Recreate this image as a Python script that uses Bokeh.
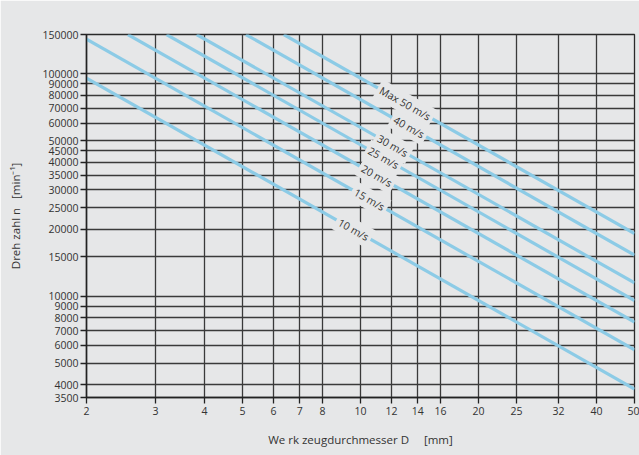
import math
from bokeh.plotting import figure
from bokeh.models import Label, FixedTicker
from bokeh.embed import file_html
from bokeh.resources import INLINE

# Data
speed_labels = ["10 m/s", "15 m/s", "20 m/s", "25 m/s", "30 m/s", "40 m/s", "Max 50 m/s"]
d_start = [2.0, 2.0, 2.55, 3.2, 3.82, 5.1, 6.37]
n_start = [95500, 143000, 150000, 150000, 150000, 150000, 150000]
d_end = [50, 50, 50, 50, 50, 50, 50]
n_end = [3820, 5730, 7640, 9550, 11460, 15280, 19100]
label_d = [9.6, 10.54, 11.0, 11.45, 12.08, 13.3, 13.0]

x_ticks = [2, 3, 4, 5, 6, 7, 8, 10, 12, 14, 16, 20, 25, 32, 40, 50]
y_ticks = [3500, 4000, 5000, 6000, 7000, 8000, 9000, 10000, 15000, 20000, 25000,
           30000, 35000, 40000, 45000, 50000, 60000, 70000, 80000, 90000, 100000, 150000]

BG = "#e6e7e8"
BLUE = "#8ccbe6"
INK = "#333333"
FONT = "Open Sans"
NB = "\u00a0"

p = figure(x_axis_type="log", y_axis_type="log", x_range=(2, 50), y_range=(3500, 150000),
           frame_width=548, frame_height=363, output_backend="svg", toolbar_location=None,
           min_border_left=86, min_border_right=5, min_border_top=34, min_border_bottom=58)
p.background_fill_color = BG
p.border_fill_color = BG
p.outline_line_color = "#2a2a2a"
p.outline_line_width = 1.3

p.xaxis.ticker = FixedTicker(ticks=x_ticks)
p.yaxis.ticker = FixedTicker(ticks=y_ticks)
p.xaxis.major_label_overrides = {t: str(t) for t in x_ticks}
p.yaxis.major_label_overrides = {t: str(t) for t in y_ticks}
p.xgrid.ticker = FixedTicker(ticks=x_ticks)
p.ygrid.ticker = FixedTicker(ticks=y_ticks)
for g in (p.xgrid, p.ygrid):
    g.grid_line_color = "#3a3a3a"
    g.grid_line_width = 1.3
    g.grid_line_alpha = 1.0

for ax in (p.xaxis, p.yaxis):
    ax.axis_line_color = "#222222"
    ax.axis_line_width = 1.5
    ax.major_tick_line_color = "#222222"
    ax.major_tick_line_width = 1.3
    ax.major_tick_out = 6
    ax.major_tick_in = 0
    ax.minor_tick_line_color = None
    ax.major_label_text_font = FONT
    ax.major_label_text_font_size = "10.5px"
    ax.major_label_text_color = INK
    ax.axis_label_text_font = FONT
    ax.axis_label_text_font_size = "11.5px"
    ax.axis_label_text_font_style = "normal"
    ax.axis_label_text_color = INK
p.yaxis.major_label_standoff = 2
p.xaxis.major_label_standoff = 3
p.yaxis.axis_label = "Dreh zahl n" + NB * 3 + "[min\u207b\u00b9]"
p.xaxis.axis_label = "We rk zeugdurchmesser D" + NB * 5 + "[mm]"
p.yaxis.axis_label_standoff = 16
p.xaxis.axis_label_standoff = 14

for i in range(len(speed_labels)):
    p.line([d_start[i], d_end[i]], [n_start[i], n_end[i]], line_color=BLUE, line_width=3.2)

for i in range(len(speed_labels)):
    slope = math.log(n_end[i] / n_start[i]) / math.log(d_end[i] / d_start[i])
    ly = n_start[i] * (label_d[i] / d_start[i]) ** slope
    p.add_layout(Label(x=label_d[i], y=ly, text=speed_labels[i], angle=-29.5, angle_units="deg",
                       text_align="center", text_baseline="middle", text_font=FONT,
                       text_font_size="10.5px", text_color=INK,
                       background_fill_color=BG, padding=3))

open("out.html", "w").write(file_html(p, INLINE))
